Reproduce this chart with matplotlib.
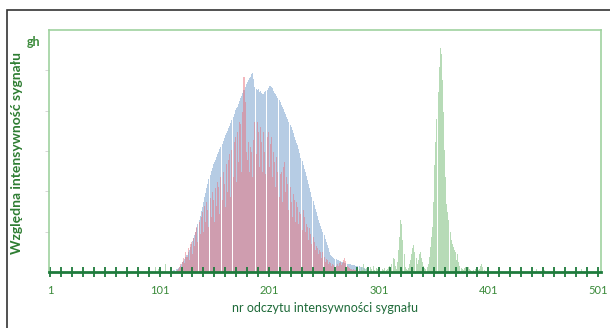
import numpy as np
import matplotlib
matplotlib.use('Agg')
import matplotlib.pyplot as plt
from matplotlib.patches import Rectangle

plt.rcParams['font.family'] = ['Lato', 'DejaVu Sans']

# odczyty 1..500, wartosci wzgledne
blue_start = 112
blue_vals = [1, 1, 2, 2, 3, 3, 4, 5, 6, 8,
             10, 11, 13, 15, 17, 20, 22, 25, 28, 31,
             34, 37, 40, 44, 48, 52, 56, 61, 65, 70,
             75, 79, 84, 88, 93, 97, 101, 104, 108, 110,
             112, 115, 118, 120, 123, 125, 128, 131, 134, 137,
             139, 141, 144, 146, 149, 152, 155, 158, 162, 164,
             165, 168, 171, 174, 176, 179, 182, 185, 188, 190,
             192, 194, 195, 198, 199, 193, 185, 183, 182, 183,
             180, 181, 179, 178, 178, 180, 181, 182, 184, 186,
             186, 185, 184, 181, 179, 178, 176, 174, 172, 170,
             167, 165, 163, 160, 158, 155, 153, 150, 147, 145,
             142, 139, 135, 132, 129, 127, 123, 119, 114, 111,
             107, 103, 100, 96, 92, 88, 84, 80, 75, 71,
             67, 63, 60, 56, 52, 49, 46, 43, 40, 37,
             33, 30, 27, 24, 20, 17, 16, 15, 14, 13,
             13, 12, 12, 11, 11, 10, 10, 10, 9, 9,
             8, 8, 8, 8, 7, 7, 7, 7, 6, 6,
             6, 6, 5, 5, 5, 4, 4, 3, 3, 2]

red_start = 116
red_vals = [1, 2, 3, 5, 8, 4, 10, 14, 9, 20,
            15, 24, 12, 28, 30, 18, 34, 26, 40, 45,
            30, 50, 38, 55, 60, 40, 66, 50, 70, 62,
            45, 74, 55, 80, 72, 50, 84, 66, 90, 85,
            58, 95, 72, 100, 88, 65, 108, 80, 112, 118,
            75, 122, 95, 130, 135, 90, 140, 110, 150, 148,
            100, 160, 195, 170, 120, 112, 130, 100, 125, 120,
            95, 132, 150, 118, 150, 140, 105, 145, 130, 100,
            140, 120, 98, 135, 140, 105, 128, 135, 95, 120,
            110, 85, 115, 100, 75, 98, 100, 70, 105, 110,
            80, 95, 88, 62, 85, 70, 55, 78, 72, 50,
            70, 65, 48, 60, 58, 42, 62, 55, 40, 48,
            45, 32, 44, 38, 28, 35, 30, 22, 26, 24,
            18, 22, 20, 14, 20, 15, 10, 13, 12, 8,
            10, 9, 6, 8, 7, 5, 6, 8, 6, 9,
            10, 7, 9, 12, 14, 11, 6, 5, 4, 3,
            3, 2, 3, 2, 2, 1, 2, 1, 1, 1]

green_start = 283
green_vals = [3, 0, 5, 2, 8, 3, 0, 4, 2, 0,
              5, 3, 0, 6, 2, 0, 4, 3, 2, 5,
              0, 3, 2, 4, 0, 2, 3, 5, 6, 3,
              8, 14, 13, 6, 3, 10, 22, 35, 52, 48,
              32, 18, 5, 3, 2, 4, 8, 12, 18, 24,
              27, 20, 14, 8, 12, 18, 20, 14, 10, 6,
              4, 3, 5, 8, 15, 25, 35, 45, 70, 107,
              130, 153, 180, 205, 224, 218, 192, 160, 122, 95,
              68, 60, 52, 40, 32, 28, 25, 22, 20, 12,
              18, 10, 6, 4, 3, 2, 4, 5, 2, 3,
              5, 3, 2, 1, 2, 0, 3, 2, 1, 2,
              3, 6, 8, 5, 2, 1, 0, 1, 2, 0]
# pojedyncze male odczyty poza glownymi obszarami
green_extra_x = [97, 100, 106, 445, 452, 461, 470, 486]
green_extra_y = [5, 3, 8, 3, 2, 3, 2, 3]

x_labels = [1, 101, 201, 301, 401, 501]

fig = plt.figure(figsize=(6.10, 3.28), dpi=100)
ax = fig.add_axes([49/610, 1-272/328, 552/610, 242/328])

bx = np.arange(blue_start, blue_start + len(blue_vals))
rx = np.arange(red_start, red_start + len(red_vals))
gx = np.arange(green_start, green_start + len(green_vals))

ax.bar(bx, blue_vals, width=0.92, color='#a9c3e0', alpha=0.85, linewidth=0)
ax.bar(rx, red_vals, width=0.92, color='#e8707c', alpha=0.5, linewidth=0)
ax.bar(gx, green_vals, width=0.92, color='#9fd09f', alpha=0.75, linewidth=0)
ax.bar(green_extra_x, green_extra_y, width=0.92, color='#9fd09f', alpha=0.75, linewidth=0)

ax.set_xlim(0.1, 503.7)
ax.set_ylim(0, 242)

ax.set_xticks(x_labels)
ax.set_xticklabels([str(v) for v in x_labels])
ax.set_xticks(np.arange(1, 502, 10), minor=True)
ax.tick_params(axis='x', which='both', direction='inout', length=7, width=1.3,
               color='#1e7b3c', labelcolor='#3a8a3a', labelsize=8, pad=6)
ax.set_yticks(np.linspace(0, 242, 7)[1:-1])
ax.set_yticklabels([])
ax.tick_params(axis='y', direction='out', length=3, width=0.6, color='#d0d0d0')

for s in ['left', 'top', 'right']:
    ax.spines[s].set_color('#9fd29f')
    ax.spines[s].set_linewidth(1.2)
ax.spines['bottom'].set_color('#1e7b3c')
ax.spines['bottom'].set_linewidth(2)

ax.set_xlabel('nr odczytu intensywności sygnału', fontsize=9, color='#1f6b3a', labelpad=4)
fig.text(17/610, 1-153/328, 'Względna intensywność sygnału', rotation=90,
         fontsize=10, fontweight='bold', color='#2e7d32', ha='center', va='center')

# etykieta legendy w lewym gornym rogu
fig.text(27/610, 1-42/328, 'gh', fontsize=9, fontweight='bold', color='#3a8a3a', va='center')

# ramka zewnetrzna
fig.patches.append(Rectangle((7/610, -0.05), 1.0, 1-10/328 + 0.05, transform=fig.transFigure,
                             fill=False, edgecolor='#333333', linewidth=1.2))

fig.savefig('out.png', dpi=100)
